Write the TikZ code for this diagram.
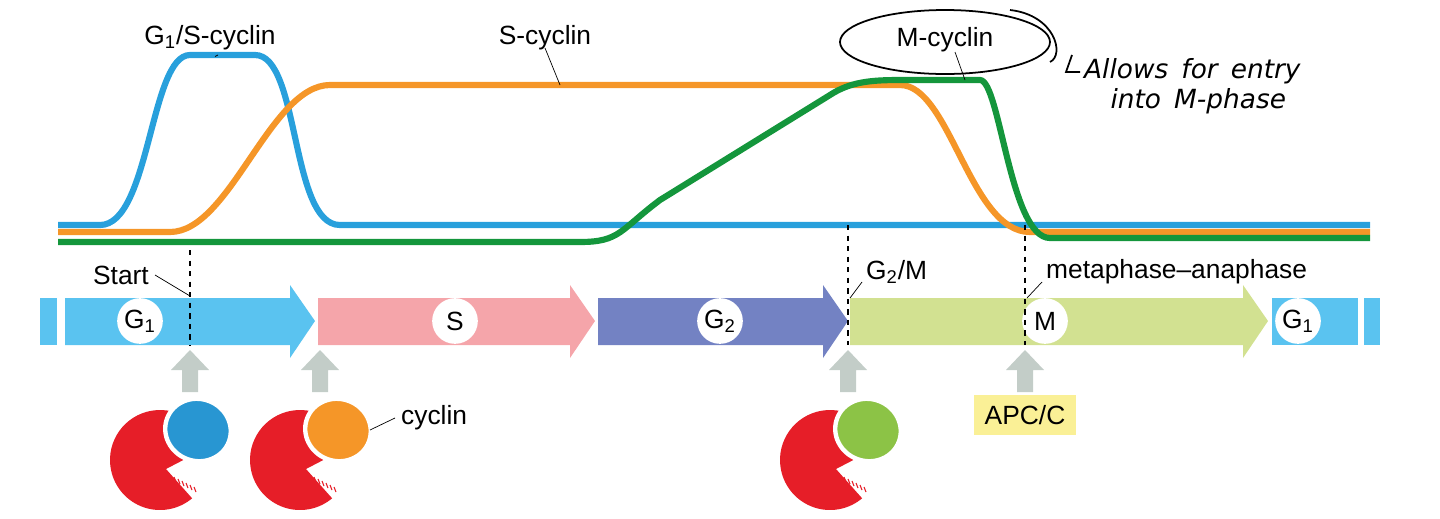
\documentclass[tikz,border=0pt]{standalone}
\usepackage{fontspec}
\setmainfont{Liberation Sans}
\newfontfamily\hand{DejaVu Sans}
\usetikzlibrary{shapes.geometric,arrows.meta}
\definecolor{cblue}{RGB}{40,160,220}
\definecolor{corange}{RGB}{245,150,40}
\definecolor{cgreen}{RGB}{20,150,60}
\definecolor{pblue}{RGB}{90,195,240}
\definecolor{ppink}{RGB}{245,165,170}
\definecolor{ppurple}{RGB}{115,130,195}
\definecolor{plime}{RGB}{210,225,145}
\definecolor{cgray}{RGB}{195,205,200}
\definecolor{cred}{RGB}{230,30,40}
\definecolor{cyblue}{RGB}{40,150,210}
\definecolor{cyorange}{RGB}{245,150,40}
\definecolor{cygreen}{RGB}{140,195,70}
\definecolor{apc}{RGB}{250,240,150}
\tikzset{
 curve/.style={line width=3.5pt},
 lbl/.style={font=\fontsize{15}{17}\selectfont},
 phase/.style={circle,fill=white,inner sep=1pt,minimum size=26pt,font=\fontsize{15}{17}\selectfont},
 dln/.style={dashed,line width=0.7pt},
 gup/.style={fill=cgray},
}
\newcommand{\enz}[3]{% x y cyclincolor
 \fill[cred] (#1,#2+5) ++(-15:50) arc[start angle=-15,end angle=-310,radius=50] -- (#1+6,#2+14) -- cycle;
 \fill[#3,draw=white,line width=2.5pt,rotate around={-20:(#1+38,#2-25)}] (#1+38,#2-25) ellipse (33 and 31);
 \foreach \k in {0,...,5}{\draw[cred,line width=0.6pt] (#1+14+\k*4,#2+22+\k*2) -- ++(2,5);}
}
\begin{document}
\begin{tikzpicture}[x=0.02cm,y=-0.02cm]
\path[use as bounding box] (0,0) rectangle (1440,518);
% curves
\draw[curve,cblue] (58,225) -- (100,225) .. controls (150,225) and (150,55) .. (190,55) -- (255,55) .. controls (300,55) and (290,225) .. (340,225) -- (1370,225);
\draw[curve,corange] (58,232) -- (170,232) .. controls (230,232) and (270,85) .. (330,85) -- (900,85) .. controls (950,85) and (970,232) .. (1030,232) -- (1370,232);
\draw[curve,cgreen] (58,242) -- (580,242) .. controls (620,242) and (620,230) .. (660,200) -- (830,95) .. controls (850,82) and (870,80) .. (900,80) -- (980,80) .. controls (1000,80) and (1010,238) .. (1050,238) -- (1370,238);
\node[lbl] (l1) at (210,38) {G\textsubscript{1}/S-cyclin};
\draw (l1.south) ++(5,0) -- (218,55);
\node[lbl] (l2) at (545,38) {S-cyclin};
\draw (545,48) -- (560,85);
\node[lbl] (l3) at (945,40) {M-cyclin};
\draw[line width=1pt] (945,42) ellipse (105 and 32);
\draw (955,52) -- (965,80);
\draw[line width=1pt] (1010,10) .. controls (1055,15) and (1065,55) .. (1050,62);
\draw[line width=1pt] (1072,55) -- (1066,72) -- (1080,72);
\node[font=\hand\fontsize{15}{17}\selectfont\itshape,align=left,anchor=north west] (hw) at (1078,52) {Allows\enspace for\enspace entry\\\hspace{1em}into\enspace M-phase};
% phase bar
\fill[pblue] (40,298) rectangle (57,345);
\fill[pblue] (65,298) -- (290,298) -- (290,285) -- (315,321) -- (290,358) -- (290,345) -- (65,345) -- cycle;
\fill[ppink] (318,298) -- (570,298) -- (570,285) -- (595,321) -- (570,358) -- (570,345) -- (318,345) -- cycle;
\fill[ppurple] (598,298) -- (823,298) -- (823,285) -- (848,321) -- (823,358) -- (823,345) -- (598,345) -- cycle;
\fill[plime] (850,298) -- (1243,298) -- (1243,285) -- (1268,321) -- (1243,358) -- (1243,345) -- (850,345) -- cycle;
\fill[pblue] (1272,298) rectangle (1358,345);
\fill[pblue] (1364,298) rectangle (1380,345);
\node[phase] (p1) at (140,321) {G\textsubscript{1}};
\node[phase] (p2) at (455,321) {S};
\node[phase] (p3) at (720,321) {G\textsubscript{2}};
\node[phase] (p4) at (1045,321) {M};
\node[phase] (p5) at (1298,321) {G\textsubscript{1}};
\draw[dln] (190,250) -- (190,345);
\draw[dln] (848,225) -- (848,345);
\draw[dln] (1025,225) -- (1025,345);
\node[lbl,anchor=east] (st) at (155,275) {Start};
\draw (st.east) -- (190,296);
\node[lbl,anchor=west] (gm) at (860,272) {G\textsubscript{2}/M};
\draw (862,282) -- (850,298);
\node[lbl,anchor=west] (ma) at (1040,272) {metaphase–anaphase};
\draw (1042,282) -- (1027,298);
% gray arrows
\foreach \x in {190,320,848,1025}{
 \fill[gup] (\x-8,392) -- (\x-8,370) -- (\x-19,370) -- (\x,350) -- (\x+19,370) -- (\x+8,370) -- (\x+8,392) -- cycle;}
% enzymes
\enz{160}{455}{cyblue}
\enz{300}{455}{cyorange}
\enz{830}{455}{cygreen}
\node[lbl,anchor=west] (cy) at (395,418) {cyclin};
\draw (cy.west) -- (370,430);
\node[lbl,fill=apc,inner sep=6pt] (apc) at (1025,415) {APC/C};
\end{tikzpicture}
\end{document}
